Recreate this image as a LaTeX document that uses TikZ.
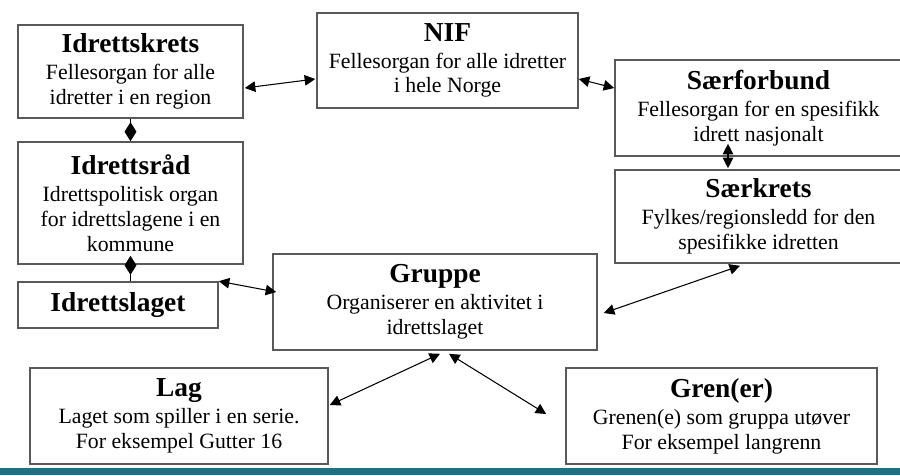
\documentclass[tikz,border=0pt]{standalone}
\usepackage{fontspec}
\setmainfont{Liberation Serif}
\usetikzlibrary{arrows.meta,calc}
\definecolor{stripe}{RGB}{35,110,135}
\newcommand{\boxhead}[1]{{\fontsize{15.6}{14.2}\selectfont\bfseries #1}}

\begin{document}
\begin{tikzpicture}[x=0.2mm, y=-0.2mm, >={Triangle[length=6pt,width=6pt]},
    unit/.style={draw=black!65, line width=0.9pt, align=center, inner sep=0pt,
      font=\fontsize{12.4}{14.2}\selectfont},
    link/.style={<->, line width=0.6pt},
    member/.style={-{Diamond[length=10.8pt,width=6.8pt]}, line width=0.6pt}]

    \useasboundingbox (0,0) rectangle (900,475);
    \fill[stripe] (0,468) rectangle (900,475);

    \node[unit, minimum width=45mm, minimum height=18.6mm] (krets) at (130.5,71.5)
        {\boxhead{Idrettskrets}\\[1pt] Fellesorgan for alle\\ idretter i en region};
    \node[unit, minimum width=52.2mm, minimum height=19mm] (nif) at (447.5,60.5)
        {\boxhead{NIF}\\[1pt] Fellesorgan for alle idretter\\ i hele Norge};
    \node[unit, minimum width=57.4mm, minimum height=19.2mm] (forbund) at (758.5,108)
        {\boxhead{Særforbund}\\[1pt] Fellesorgan for en spesifikk\\ idrett nasjonalt};
    \node[unit, minimum width=57.4mm, minimum height=18.6mm] (saerkrets) at (758.5,216.5)
        {\boxhead{Særkrets}\\[1pt] Fylkes/regionsledd for den\\ spesifikke idretten};
    \node[unit, minimum width=45mm, minimum height=24.4mm] (rad) at (130.5,203)
        {\boxhead{Idrettsråd}\\[1pt] Idrettspolitisk organ\\ for idrettslagene i en\\ kommune};
    \node[unit, minimum width=40mm, minimum height=9.2mm] (laget) at (118,305)
        {\boxhead{Idrettslaget}};
    \node[unit, minimum width=64.8mm, minimum height=19.2mm] (gruppe) at (435,302)
        {\boxhead{Gruppe}\\[1pt] Organiserer en aktivitet i\\ idrettslaget};
    \node[unit, minimum width=59.6mm, minimum height=19.2mm] (lag) at (179,416)
        {\boxhead{Lag}\\[1pt] Laget som spiller i en serie.\\ For eksempel Gutter 16};
    \node[unit, minimum width=62.2mm, minimum height=19.2mm] (gren) at (721.5,416)
        {\boxhead{Gren(er)}\\[1pt] Grenen(e) som gruppa utøver\\ For eksempel langrenn};

    % koblinger
    \draw[link] ($(krets.east)+(1,16.5)$) -- ($(nif.west)+(-1,18.5)$);
    \draw[link] ($(nif.east)+(0,18.5)$) -- ($(forbund.west)+(0,-20)$);
    \draw[link] ($(forbund.south)+(-30.5,-13)$) -- ($(saerkrets.north)+(-30.5,-1)$);
    \draw[member] (krets.south) -- (rad.north);
    \draw[member] ($(laget.north)+(12.5,0)$) -- ($(rad.south)+(0,-9)$);
    \draw[link] (laget.north east) -- ($(gruppe.west)+(4,-10)$);
    \draw[link] ($(gruppe.east)+(6,11)$) -- ($(saerkrets.south)+(-18.5,2)$);
    \draw[link] ($(gruppe.south)+(5,3)$) -- ($(lag.east)+(1,-11)$);
    \draw[link] ($(gruppe.south)+(14,3)$) -- ($(gren.west)+(-19,-2)$);
\end{tikzpicture}
\end{document}
